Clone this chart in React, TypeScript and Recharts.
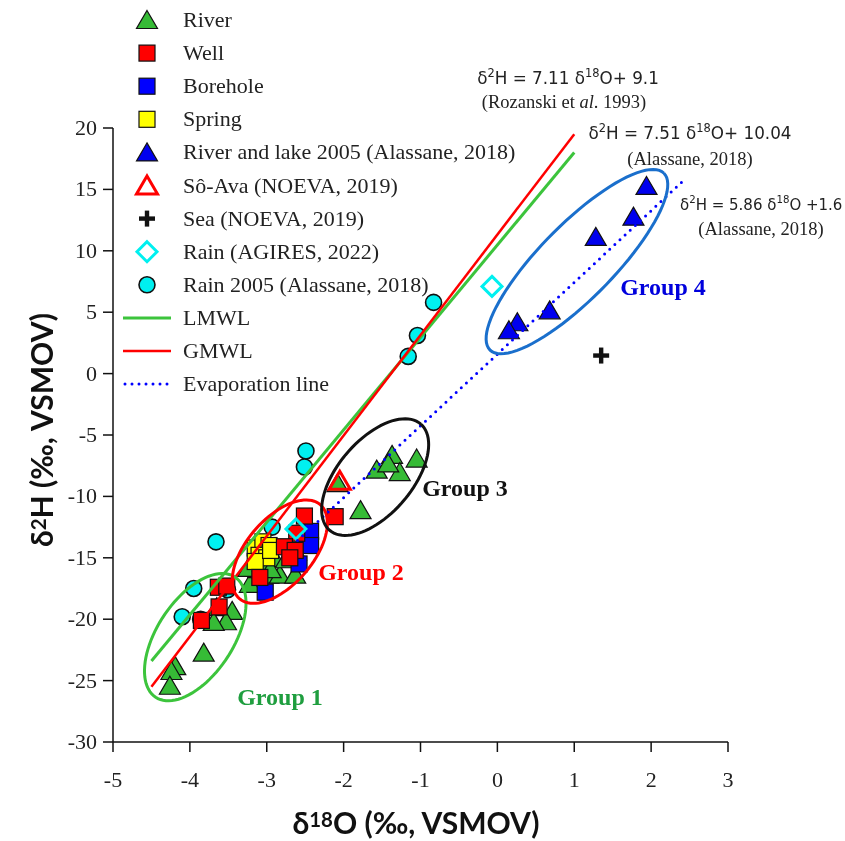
import React from 'react';
import { ScatterChart, Scatter, XAxis, YAxis, Customized } from 'recharts';

type Pt = { x: number; y: number };

const xTicks = [-5, -4, -3, -2, -1, 0, 1, 2, 3];
const yTicks = [-30, -25, -20, -15, -10, -5, 0, 5, 10, 15, 20];

const river: Pt[] = [
  // group 1
  { x: -3.65, y: -19.1 }, { x: -3.45, y: -19.4 }, { x: -3.53, y: -20.25 }, { x: -3.69, y: -20.3 },
  { x: -3.82, y: -22.8 }, { x: -4.19, y: -23.9 }, { x: -4.24, y: -24.3 }, { x: -4.26, y: -25.5 },
  // group 2
  { x: -3.22, y: -17.2 }, { x: -3.11, y: -16.0 }, { x: -2.98, y: -16.45 }, { x: -2.83, y: -16.45 },
  { x: -2.63, y: -16.45 }, { x: -3.24, y: -15.9 }, { x: -2.9, y: -15.1 }, { x: -2.75, y: -15.2 },
  { x: -3.05, y: -15.5 }, { x: -2.62, y: -14.6 }, { x: -2.95, y: -16.0 },
  // group 3
  { x: -1.37, y: -6.7 }, { x: -1.05, y: -7.0 }, { x: -1.57, y: -7.9 }, { x: -1.27, y: -8.1 },
  { x: -1.42, y: -7.4 }, { x: -1.78, y: -11.2 }, { x: -2.08, y: -9.0 },
];

const well: Pt[] = [
  { x: -2.11, y: -11.65 }, { x: -2.51, y: -11.6 }, { x: -2.61, y: -13.0 }, { x: -2.77, y: -14.1 },
  { x: -2.63, y: -14.4 }, { x: -2.7, y: -15.0 }, { x: -3.09, y: -16.6 }, { x: -3.62, y: -19.0 },
  { x: -3.63, y: -17.4 }, { x: -3.52, y: -17.3 }, { x: -3.85, y: -20.1 },
];

const borehole: Pt[] = [
  { x: -2.5, y: -13.4 }, { x: -2.43, y: -12.85 }, { x: -2.43, y: -14.0 }, { x: -2.58, y: -15.5 }, { x: -3.02, y: -17.8 },
];

const spring: Pt[] = [
  { x: -3.15, y: -14.2 }, { x: -3.05, y: -13.7 }, { x: -2.97, y: -14.0 }, { x: -3.1, y: -14.8 },
  { x: -3.0, y: -15.0 }, { x: -3.15, y: -15.3 }, { x: -2.95, y: -14.4 },
];

const riverLake2005: Pt[] = [
  { x: 1.94, y: 15.2 }, { x: 1.77, y: 12.7 }, { x: 1.28, y: 11.05 },
  { x: 0.68, y: 5.07 }, { x: 0.26, y: 4.1 }, { x: 0.15, y: 3.45 },
];

const soAva: Pt[] = [{ x: -2.05, y: -8.8 }];
const sea: Pt[] = [{ x: 1.35, y: 1.47 }];
const rainAgires: Pt[] = [{ x: -0.07, y: 7.1 }, { x: -2.62, y: -12.65 }];

const rain2005: Pt[] = [
  { x: -0.83, y: 5.8 }, { x: -1.04, y: 3.1 }, { x: -1.16, y: 1.4 }, { x: -2.49, y: -6.3 },
  { x: -2.51, y: -7.6 }, { x: -3.66, y: -13.7 }, { x: -2.93, y: -12.5 }, { x: -3.95, y: -17.5 },
  { x: -4.1, y: -19.8 }, { x: -3.86, y: -20.0 }, { x: -3.51, y: -17.6 },
];

const lmwl: Pt[] = [{ x: -4.5, y: -23.4 }, { x: 1.0, y: 18.0 }];
const gmwl: Pt[] = [{ x: -4.5, y: -25.5 }, { x: 1.0, y: 19.5 }];
const evapLine: Pt[] = [{ x: -2.6, y: -13.6 }, { x: 2.4, y: 15.6 }];

// layout
const W = 837;
const H = 833;
const M = { top: 120, right: 117, bottom: 49, left: 45 };
const Y_W = 60;
const X_H = 50;
const PLOT_W = W - M.left - M.right - Y_W;
const PLOT_H = H - M.top - M.bottom - X_H;
const PX_X = PLOT_W / 8;
const PX_Y = PLOT_H / 50;

// group ellipse outline: centre in data units, semi-axes in px, tilt in degrees
function ellipse(cx: number, cy: number, a: number, b: number, deg: number): Pt[] {
  const r = (deg * Math.PI) / 180;
  const out: Pt[] = [];
  for (let i = 0; i <= 90; i++) {
    const t = (i / 90) * Math.PI * 2;
    const dx = a * Math.cos(t) * Math.cos(r) - b * Math.sin(t) * Math.sin(r);
    const dy = a * Math.cos(t) * Math.sin(r) + b * Math.sin(t) * Math.cos(r);
    out.push({ x: cx + dx / PX_X, y: cy + dy / PX_Y });
  }
  return out;
}

const group1 = ellipse(-3.93, -21.46, 72, 38, 56.6);
const group2 = ellipse(-2.83, -14.5, 62, 33, 49.3);
const group3 = ellipse(-1.59, -8.43, 70, 37, 49.4);
const group4 = ellipse(1.035, 9.12, 124, 37, 45.5);

const GREEN = '#36bb36';
const LINE_GREEN = '#3cc43c';
const RED = '#ff0000';
const CYAN = '#00f0f0';

const Tri = ({ cx, cy, fill }: any) => (
  <polygon points={`${cx},${cy - 10.5} ${cx + 10.5},${cy + 7.5} ${cx - 10.5},${cy + 7.5}`} fill={fill} stroke="#111" strokeWidth={1.2} />
);
const Sq = ({ cx, cy, fill }: any) => (
  <rect x={cx - 8} y={cy - 8} width={16} height={16} fill={fill} stroke="#111" strokeWidth={1.2} />
);
const Circ = ({ cx, cy }: any) => <circle cx={cx} cy={cy} r={8} fill={CYAN} stroke="#111" strokeWidth={1.6} />;
const HollowTri = ({ cx, cy }: any) => (
  <polygon points={`${cx},${cy - 10.5} ${cx + 10.5},${cy + 7.5} ${cx - 10.5},${cy + 7.5}`} fill="none" stroke={RED} strokeWidth={3} />
);
const Diamond = ({ cx, cy }: any) => (
  <polygon points={`${cx},${cy - 10} ${cx + 10},${cy} ${cx},${cy + 10} ${cx - 10},${cy}`} fill="none" stroke={CYAN} strokeWidth={3} />
);
const Plus = ({ cx, cy }: any) => (
  <g fill="#111">
    <rect x={cx - 8} y={cy - 2.2} width={16} height={4.4} />
    <rect x={cx - 2.2} y={cy - 8} width={4.4} height={16} />
  </g>
);
const None = () => <g />;

const serif = '"Liberation Serif", "Times New Roman", serif';
const sans = '"DejaVu Sans", sans-serif';

const renderXTick = (p: any) => (
  <text x={p.x} y={p.y} dy={16} textAnchor="middle" fontFamily={serif} fontSize={22} fill="#222">
    {p.payload.value}
  </text>
);
const renderYTick = (p: any) => (
  <text x={p.x} y={p.y} dy={7} textAnchor="end" fontFamily={serif} fontSize={22} fill="#222">
    {p.payload.value}
  </text>
);

const legendRows: { label: React.ReactNode; icon: (cx: number, cy: number) => React.ReactNode }[] = [
  { label: 'River', icon: (cx, cy) => <Tri cx={cx} cy={cy + 1} fill={GREEN} /> },
  { label: 'Well', icon: (cx, cy) => <Sq cx={cx} cy={cy} fill={RED} /> },
  { label: 'Borehole', icon: (cx, cy) => <Sq cx={cx} cy={cy} fill="#0000ff" /> },
  { label: 'Spring', icon: (cx, cy) => <Sq cx={cx} cy={cy} fill="#ffff00" /> },
  { label: 'River and lake 2005 (Alassane, 2018)', icon: (cx, cy) => <Tri cx={cx} cy={cy + 1} fill="#0000ee" /> },
  { label: 'Sô-Ava (NOEVA, 2019)', icon: (cx, cy) => <HollowTri cx={cx} cy={cy + 1} /> },
  { label: 'Sea (NOEVA, 2019)', icon: (cx, cy) => <Plus cx={cx} cy={cy} /> },
  { label: 'Rain (AGIRES, 2022)', icon: (cx, cy) => <Diamond cx={cx} cy={cy} /> },
  { label: 'Rain 2005 (Alassane, 2018)', icon: (cx, cy) => <Circ cx={cx} cy={cy} /> },
  { label: 'LMWL', icon: (cx, cy) => <line x1={cx - 24} x2={cx + 24} y1={cy} y2={cy} stroke={LINE_GREEN} strokeWidth={3} /> },
  { label: 'GMWL', icon: (cx, cy) => <line x1={cx - 24} x2={cx + 24} y1={cy} y2={cy} stroke={RED} strokeWidth={2.5} /> },
  {
    label: 'Evaporation line',
    icon: (cx, cy) => (
      <line x1={cx - 22} x2={cx + 24} y1={cy} y2={cy} stroke="#0000ff" strokeWidth={3} strokeDasharray="0 7" strokeLinecap="round" />
    ),
  },
];

const Sup = ({ children }: { children: React.ReactNode }) => (
  <tspan dy={-7} fontSize="0.68em">{children}</tspan>
);

const Overlay = () => (
  <g>
    {legendRows.map((r, i) => {
      const cy = 12 + i * 33.1;
      return (
        <g key={i}>
          {r.icon(139, cy)}
          <text x={175} y={cy + 7} fontFamily={serif} fontSize={22} fill="#222">{r.label}</text>
        </g>
      );
    })}

    <g fontFamily={sans} fontSize={16.8} fill="#222" textAnchor="middle">
      <text x={560} y={76}>δ<Sup>2</Sup><tspan dy={7}>H = 7.11 δ</tspan><Sup>18</Sup><tspan dy={7}>O+ 9.1</tspan></text>
      <text x={682} y={131}>δ<Sup>2</Sup><tspan dy={7}>H = 7.51 δ</tspan><Sup>18</Sup><tspan dy={7}>O+ 10.04</tspan></text>
    </g>
    <text x={672} y={202} fontFamily={sans} fontSize={15} fill="#222">
      δ<Sup>2</Sup><tspan dy={7}>H = 5.86 δ</tspan><Sup>18</Sup><tspan dy={7}>O +1.6</tspan>
    </text>
    <g fontFamily={serif} fontSize={18.5} fill="#222" textAnchor="middle">
      <text x={556} y={100}>(Rozanski et <tspan fontStyle="italic">al</tspan>. 1993)</text>
      <text x={682} y={157}>(Alassane, 2018)</text>
      <text x={753} y={227}>(Alassane, 2018)</text>
    </g>

    <g fontFamily={serif} fontSize={24} fontWeight="bold" textAnchor="middle">
      <text x={272} y={697} fill="#1f9e3f">Group 1</text>
      <text x={353} y={572} fill={RED}>Group 2</text>
      <text x={457} y={488} fill="#111">Group 3</text>
      <text x={655} y={287} fill="#0000dd">Group 4</text>
    </g>

    <g fontFamily="Lato, 'Open Sans', sans-serif" fontSize={30} fontWeight="bold" fill="#111" textAnchor="middle">
      <text x={408} y={826}>δ<Sup>18</Sup><tspan dy={7}>O (‰, VSMOV)</tspan></text>
      <text transform="translate(45,422) rotate(-90)" x={0} y={0}>δ<Sup>2</Sup><tspan dy={7}>H (‰, VSMOV)</tspan></text>
    </g>
  </g>
);

export default function App() {
  return (
    <div style={{ position: 'fixed', left: 8, top: 8, fontFamily: serif }}>
      <ScatterChart width={W} height={H} margin={M}>
        <XAxis
          type="number"
          dataKey="x"
          domain={[-5, 3]}
          ticks={xTicks}
          allowDataOverflow
          height={X_H}
          tick={renderXTick}
          tickSize={10}
          tickMargin={19}
          stroke="#111"
          strokeWidth={1.5}
        />
        <YAxis
          type="number"
          dataKey="y"
          domain={[-30, 20]}
          ticks={yTicks}
          allowDataOverflow
          width={Y_W}
          tick={renderYTick}
          tickSize={10}
          tickMargin={6}
          stroke="#111"
          strokeWidth={1.5}
        />

        <Scatter name="Rain 2005 (Alassane, 2018)" data={rain2005} shape={<Circ />} isAnimationActive={false} />
        <Scatter name="River" data={river} shape={<Tri fill={GREEN} />} isAnimationActive={false} />
        <Scatter name="Spring" data={spring} shape={<Sq fill="#ffff00" />} isAnimationActive={false} />
        <Scatter name="Borehole" data={borehole} shape={<Sq fill="#0000ff" />} isAnimationActive={false} />
        <Scatter name="Well" data={well} shape={<Sq fill={RED} />} isAnimationActive={false} />
        <Scatter name="River and lake 2005" data={riverLake2005} shape={<Tri fill="#0000ee" />} isAnimationActive={false} />
        <Scatter name="Sô-Ava" data={soAva} shape={<HollowTri />} isAnimationActive={false} />
        <Scatter name="Sea" data={sea} shape={<Plus />} isAnimationActive={false} />
        <Scatter name="Rain (AGIRES, 2022)" data={rainAgires} shape={<Diamond />} isAnimationActive={false} />

        <Scatter name="LMWL" data={lmwl} line={{ stroke: LINE_GREEN, strokeWidth: 3 }} shape={<None />} isAnimationActive={false} />
        <Scatter name="GMWL" data={gmwl} line={{ stroke: RED, strokeWidth: 2.5 }} shape={<None />} isAnimationActive={false} />
        <Scatter
          name="Evaporation line"
          data={evapLine}
          line={{ stroke: '#0000ff', strokeWidth: 3, strokeDasharray: '0 7', strokeLinecap: 'round' }}
          shape={<None />}
          isAnimationActive={false}
        />

        <Scatter data={group1} line={{ stroke: '#3cc43c', strokeWidth: 3 }} shape={<None />} isAnimationActive={false} />
        <Scatter data={group2} line={{ stroke: RED, strokeWidth: 3 }} shape={<None />} isAnimationActive={false} />
        <Scatter data={group3} line={{ stroke: '#111', strokeWidth: 3 }} shape={<None />} isAnimationActive={false} />
        <Scatter data={group4} line={{ stroke: '#1a6fcc', strokeWidth: 3 }} shape={<None />} isAnimationActive={false} />

        <Customized component={<Overlay />} />
      </ScatterChart>
    </div>
  );
}
